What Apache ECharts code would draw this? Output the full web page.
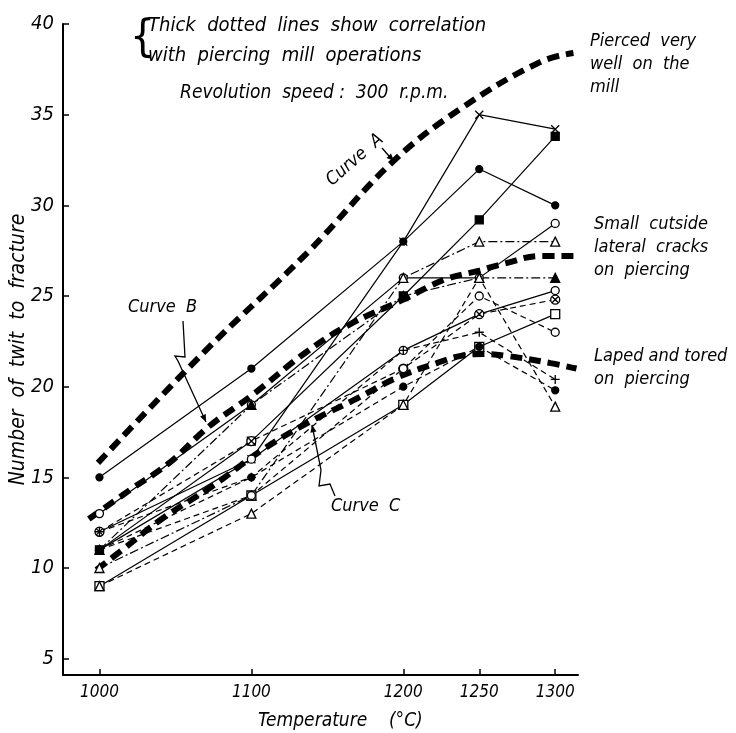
<!DOCTYPE html>
<html><head><meta charset="utf-8">
<script src="https://cdn.jsdelivr.net/npm/echarts@6/dist/echarts.min.js"></script>
<style>html,body{margin:0;padding:0;background:#fff}#c{width:736px;height:733px}</style>
</head><body><div id="c"></div>
<script>
// ---- data ----
const temperatures = [1000, 1100, 1200, 1250, 1300];
const xTicks = [1000, 1100, 1200, 1250, 1300];
const yTicks = [5, 10, 15, 20, 25, 30, 35, 40];

const sCross      = [11, 16, 28, 35, 34.2];
const sDotTop     = [15, 21, 28, 32, 30];
const sSquare     = [11, 17, 25, 29.2, 33.8];
const sCircleA    = [13, 19, 26, 26, 29];
const sTriA       = [10, 14, 26, 28, 28];
const sTriFilled  = [11, 19, 25, 26, 26];
const sCircleB    = [12, 16, 22, 24, 25.3];
const sCircleX    = [12, 17, 21, 24, 24.8];
const sSquareOpen = [9, 14, 19, 22.2, 24];
const sCircleC    = [11, 14, 21, 25, 23];
const sPlus       = [12, 15, 22, 23, 20.4];
const sDotLow     = [11, 15, 20, 22.2, 19.8];
const sTriB       = [9, 13, 19, 26, 18.9];

const curveATemp = [999, 1070, 1137, 1193, 1239, 1290, 1312];
const curveAVal  = [15.8, 22.0, 27.4, 32.4, 35.4, 37.9, 38.4];
const curveBTemp = [993, 1020, 1046, 1072, 1100, 1136, 1164, 1200, 1227, 1250, 1267, 1290, 1312];
const curveBVal  = [12.7, 14.3, 15.8, 17.8, 19.5, 21.9, 23.4, 24.8, 25.9, 26.4, 26.8, 27.2, 27.2];
const curveCTemp = [998, 1015, 1041, 1074, 1107, 1137, 1166, 1196, 1222, 1238, 1253, 1268, 1297, 1314];
const curveCVal  = [9.9, 11.0, 12.7, 14.5, 16.5, 18.0, 19.2, 20.5, 21.3, 21.7, 21.8, 21.7, 21.3, 21.0];

// ---- styles ----
const F = "'Liberation Sans Narrow','DejaVu Sans Condensed','Liberation Sans',sans-serif";
const crossPath = 'path://M0,0L10,10M10,0L0,10';
const plusPath = 'path://M5,0L5,10M0,5L10,5';
const oxPath = 'path://M10,5A5,5,0,1,1,0,5A5,5,0,1,1,10,5ZM1.5,1.5L8.5,8.5M8.5,1.5L1.5,8.5';
const DASHDOT = [9, 3, 2, 3];
const DASH = [6, 4];

const pair = (xs, ys) => xs.map((x, i) => [x, ys[i]]);

const defs = [
  {d: sCross, sym: crossPath, size: 8, lt: 'solid', fill: '#000'},
  {d: sDotTop, sym: 'circle', size: 7, lt: 'solid', fill: '#000'},
  {d: sSquare, sym: 'rect', size: 8, lt: 'solid', fill: '#000'},
  {d: sCircleA, sym: 'circle', size: 8, lt: 'solid', fill: '#fff'},
  {d: sTriA, sym: 'triangle', size: 9, lt: DASHDOT, fill: '#fff'},
  {d: sTriFilled, sym: 'triangle', size: 9, lt: DASHDOT, fill: '#000'},
  {d: sCircleB, sym: 'circle', size: 8, lt: 'solid', fill: '#fff'},
  {d: sCircleX, sym: oxPath, size: 9, lt: DASH, fill: '#fff'},
  {d: sSquareOpen, sym: 'rect', size: 9, lt: 'solid', fill: '#fff'},
  {d: sCircleC, sym: 'circle', size: 8, lt: DASH, fill: '#fff'},
  {d: sPlus, sym: plusPath, size: 9, lt: DASH, fill: '#000'},
  {d: sDotLow, sym: 'circle', size: 7, lt: DASH, fill: '#000'},
  {d: sTriB, sym: 'triangle', size: 9, lt: DASH, fill: '#fff'}
];

const series = defs.map((s, i) => ({
  type: 'line', name: 's' + i, data: pair(temperatures, s.d),
  symbol: s.sym, symbolSize: s.size, symbolKeepAspect: true, showAllSymbol: true,
  lineStyle: {color: '#000', width: 1.2, type: s.lt},
  itemStyle: {color: s.fill, borderColor: '#000', borderWidth: 1.3},
  z: 3, animation: false, silent: true
}));

[[curveATemp, curveAVal], [curveBTemp, curveBVal], [curveCTemp, curveCVal]].forEach((c, i) => {
  series.push({
    type: 'line', name: 'curve' + i, data: pair(c[0], c[1]), smooth: 0.4, symbol: 'none',
    lineStyle: {color: '#000', width: 6, type: [12, 7], cap: 'butt'}, z: 2, animation: false, silent: true
  });
});

// annotation helpers
function txt(text, x, y, size, extra) {
  return Object.assign({type: 'text', x: x, y: y, z: 10,
    style: {text: text, fill: '#000', font: 'italic ' + size + 'px ' + F,
      textAlign: 'left', textVerticalAlign: 'middle', lineHeight: 23}}, extra || {});
}
function arrow(pts) {
  const n = pts.length, t = pts[n - 1], f = pts[n - 2];
  const a = Math.atan2(t[1] - f[1], t[0] - f[0]), L = 8, W = 0.4;
  return [
    {type: 'polyline', shape: {points: pts}, style: {stroke: '#000', lineWidth: 1.3, fill: null}, z: 10},
    {type: 'polygon', shape: {points: [t, [t[0] - L * Math.cos(a - W), t[1] - L * Math.sin(a - W)],
      [t[0] - L * Math.cos(a + W), t[1] - L * Math.sin(a + W)]]}, style: {fill: '#000'}, z: 10}
  ];
}

const graphic = [
  {type: 'text', x: 130, y: 40, z: 10, style: {text: '{', fill: '#000', font: '200 44px ' + F, textVerticalAlign: 'middle'}},
  txt('Thick  dotted  lines  show  correlation', 148, 26, 20),
  txt('with  piercing  mill  operations', 148, 56, 20),
  txt('Revolution  speed :  300  r.p.m.', 180, 93, 19),
  txt('Pierced  very\nwell  on  the\nmill', 590, 64, 18),
  txt('Small  cutside\nlateral  cracks\non  piercing', 594, 247, 18),
  txt('Laped and tored\non  piercing', 594, 368, 18),
  txt('Curve  A', 355, 160, 18, {rotation: 0.72, style: {text: 'Curve  A', fill: '#000', font: 'italic 18px ' + F, textAlign: 'center', textVerticalAlign: 'middle'}}),
  txt('Curve  B', 128, 307, 18),
  txt('Curve  C', 331, 506, 18),
  txt('Temperature    (°C)', 258, 721, 19)
].concat(
  arrow([[382, 148], [389, 156], [394, 161]]),
  arrow([[183, 321], [185, 357], [175, 356], [178, 361], [206, 422]]),
  arrow([[335, 496], [330, 484], [319, 486], [321, 470], [312, 425]])
);

const chart = echarts.init(document.getElementById('c'), null, {renderer: 'canvas'});
chart.setOption({
  backgroundColor: '#fff',
  animation: false,
  grid: {left: 63, right: 158, top: 24, bottom: 58, containLabel: false, outerBoundsMode: 'none'},
  xAxis: {
    type: 'value', min: 976, max: 1315,
    axisLine: {show: true, onZero: false, lineStyle: {color: '#000', width: 2}},
    axisTick: {show: true, inside: true, length: 6, customValues: xTicks, lineStyle: {color: '#000', width: 1.5}},
    axisLabel: {customValues: xTicks, formatter: v => String(v), margin: 9, color: '#000', fontSize: 17, fontStyle: 'italic', fontFamily: F},
    splitLine: {show: false}
  },
  yAxis: {
    type: 'value', min: 4.1, max: 40,
    name: 'Number  of  twit  to  fracture', nameLocation: 'middle', nameGap: 34, nameRotate: 90,
    nameMoveOverlap: false,
    nameTextStyle: {color: '#000', fontSize: 21, fontStyle: 'italic', fontFamily: F},
    axisLine: {show: true, onZero: false, lineStyle: {color: '#000', width: 2}},
    axisTick: {show: true, inside: true, length: 6, customValues: yTicks, lineStyle: {color: '#000', width: 1.5}},
    axisLabel: {customValues: yTicks, margin: 9, color: '#000', fontSize: 20, fontStyle: 'italic', fontFamily: F},
    splitLine: {show: false}
  },
  series: series,
  graphic: graphic
});
</script></body></html>
